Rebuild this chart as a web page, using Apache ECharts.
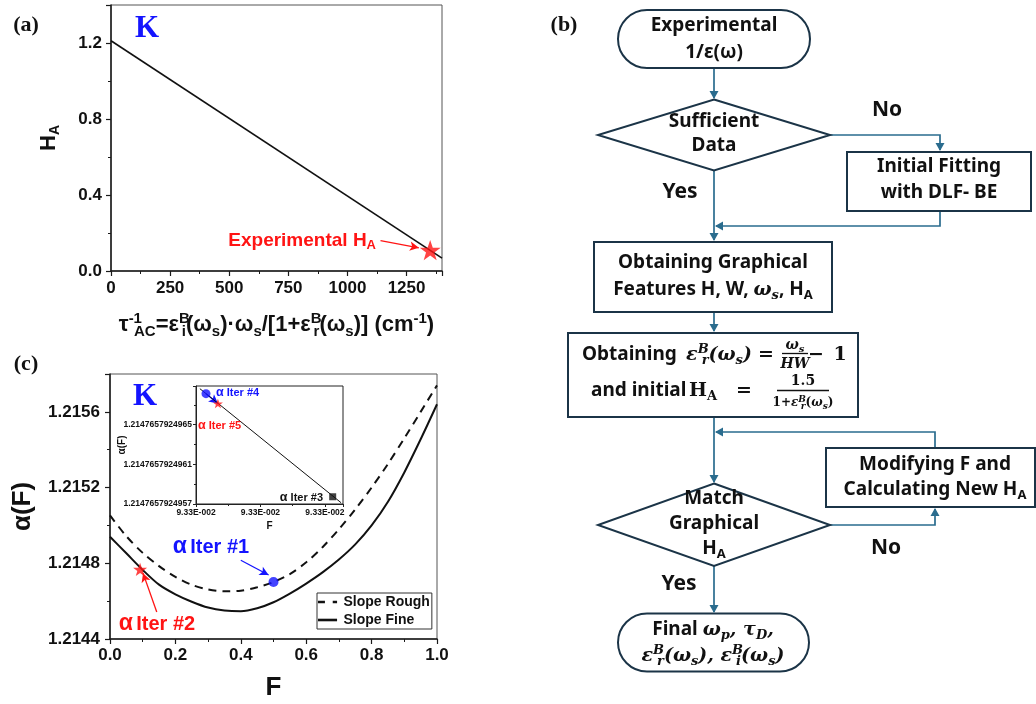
<!DOCTYPE html>
<html><head><meta charset="utf-8">
<script src="https://cdn.jsdelivr.net/npm/echarts@6/dist/echarts.min.js"></script>
<style>html,body{margin:0;padding:0;background:#fff}#c{width:1036px;height:704px}</style>
</head><body><div id="c"></div>
<script>
// ---------------- DATA ----------------
// Panel (a)
const aX = [0, 1400];
const aHA = [1.212, 0.068];
const aExpPoint = [1350, 0.11];
const aExpArrow = [[1140, 0.160], [1302, 0.122]];
// Panel (c)
const cF = [0, 0.05, 0.10, 0.15, 0.20, 0.25, 0.30, 0.35, 0.40, 0.45, 0.50, 0.55, 0.60, 0.65, 0.70, 0.75, 0.80, 0.85, 0.90, 0.95, 1.00];
const cRough = [1.215053, 1.214943, 1.214855, 1.214785, 1.214728, 1.214686, 1.214662, 1.214652, 1.214655, 1.214673, 1.214701, 1.214743, 1.214805, 1.214885, 1.21498, 1.215085, 1.2152, 1.215325, 1.21546, 1.2156, 1.21574];
const cFine = [1.21494, 1.214853, 1.214765, 1.214687, 1.214636, 1.214597, 1.214566, 1.214550, 1.214546, 1.214562, 1.214594, 1.21464, 1.214693, 1.214752, 1.21482, 1.2149, 1.215, 1.215125, 1.21528, 1.215455, 1.21564];
const cIter1 = [0.5, 1.214701];
const cIter2 = [0.092, 1.214768];
const cIter1Arrow = [[0.40, 1.214816], [0.485, 1.214738]];
const cIter2Arrow = [[0.143, 1.214543], [0.101, 1.214748]];
// Inset (F offset in tick units, alpha offset in 1e-13 from 1.2147657924957)
const insF = [0.06, 2.25];
const insAlpha = [11.63, 0.13];
const insIter4 = [0.155, 11.13];
const insIter5 = [0.34, 10.13];
const insIter3 = [2.12, 0.73];
const insYTickLabels = ['1.2147657924957', '1.2147657924961', '1.2147657924965'];
const insXTickLabels = ['9.33E-002', '9.33E-002', '9.33E-002'];

// ---------------- STYLE ----------------
const SANS = '"Liberation Sans", Arial, sans-serif';
const SERIF = '"Liberation Serif", "Times New Roman", serif';
const FF = '"Noto Sans", "Open Sans", sans-serif';
const MF = '"DejaVu Serif", serif';
const BLUE = '#1414ff', RED = '#ff1414';
const STAR = 'path://M50,0 L61.8,35.1 L97.6,35.1 L68.8,56.7 L79.4,91 L50,70 L20.6,91 L31.2,56.7 L2.4,35.1 L38.2,35.1 Z';
const zip = (a, b) => a.map((v, i) => [v, b[i]]);

function arrowML(from, to, color, width) {
  return { silent: true, symbol: ['none', 'arrow'], symbolSize: [7, 9], label: { show: false },
    lineStyle: { color, width, type: 'solid' }, emphasis: { disabled: true },
    data: [[{ coord: from }, { coord: to }]] };
}
function axisCommon(extra) {
  return Object.assign({
    type: 'value', splitLine: { show: false }, nameMoveOverlap: false,
    axisLine: { show: true, onZero: false, lineStyle: { color: '#1a1a1a', width: 1.5 } },
    axisTick: { show: true, inside: false, length: 5, lineStyle: { color: '#1a1a1a', width: 1.2 } },
    minorTick: { show: true, splitNumber: 2, length: 3, lineStyle: { color: '#1a1a1a', width: 1 } },
    minorSplitLine: { show: false },
  }, extra);
}
const lab = (size, extra) => Object.assign({ fontFamily: SANS, fontWeight: 'bold', fontSize: size, color: '#111' }, extra || {});
const subR = (sz, va) => ({ fontFamily: SANS, fontWeight: 'bold', fontSize: sz, lineHeight: 13, verticalAlign: va, color: '#111' });

// ---------------- FLOWCHART (graphic) ----------------
const LC = '#2a6c8e', BC = '#1b3447';
const mi = (sz, lh, va, pad) => { const o = { fontFamily: MF, fontStyle: 'italic', fontWeight: 'bold', fontSize: sz, lineHeight: lh }; if (va) o.verticalAlign = va; if (pad) o.padding = pad; return o; };
const mr = (sz, lh, va) => { const o = { fontFamily: MF, fontWeight: 'bold', fontSize: sz, lineHeight: lh }; if (va) o.verticalAlign = va; return o; };
const R = {
  m: mi(19, 24), ms: mi(13, 12, 'bottom'), mp: mi(13, 12, 'top', [0, -7, 0, 0]),
  r: mr(19, 24), rs: mr(13, 12, 'bottom'),
  s: { fontFamily: FF, fontWeight: 'bold', fontSize: 13, lineHeight: 12, verticalAlign: 'bottom' },
  n: mi(14, 18), nr: mr(14, 18), ns: mi(10, 9, 'bottom'),
  t: mi(12, 16), tr: mr(12, 16), ts: mi(9, 8, 'bottom'), tp: mi(9, 8, 'top', [0, -5, 0, 0])
};
const G = [];
function txt(x, y, text, extra) {
  G.push({ type: 'text', x, y, z: 20, style: Object.assign({ text, align: 'center', verticalAlign: 'middle',
    fontFamily: FF, fontWeight: 'bold', fontSize: 19, fill: '#111', lineHeight: 24, rich: R }, extra || {}) });
}
function rect(x, y, w, h, r) {
  G.push({ type: 'rect', z: 10, shape: { x, y, width: w, height: h, r: r || 0 }, style: { fill: '#fff', stroke: BC, lineWidth: 2 } });
}
function poly(pts, closed) {
  G.push({ type: closed ? 'polygon' : 'polyline', z: 9, shape: { points: pts },
    style: closed ? { fill: '#fff', stroke: BC, lineWidth: 2 } : { fill: null, stroke: LC, lineWidth: 1.7 } });
}
function head(x, y, dir) {
  const L = 8, W = 4.5; let p;
  if (dir === 'down') p = [[x, y], [x - W, y - L], [x + W, y - L]];
  if (dir === 'up') p = [[x, y], [x - W, y + L], [x + W, y + L]];
  if (dir === 'left') p = [[x, y], [x + L, y - W], [x + L, y + W]];
  G.push({ type: 'polygon', z: 11, shape: { points: p }, style: { fill: LC } });
}
function hbar(x1, x2, y) {
  G.push({ type: 'line', z: 21, shape: { x1, y1: y, x2, y2: y }, style: { stroke: '#111', lineWidth: 1.3 } });
}
// connectors
poly([[714, 68], [714, 98]]); head(714, 99, 'down');
poly([[830, 135], [940, 135], [940, 150]]); head(940, 151, 'down');
poly([[940, 211], [940, 226], [716, 226]]); head(715, 226, 'left');
poly([[714, 170], [714, 240]]); head(714, 241, 'down');
poly([[714, 312], [714, 331]]); head(714, 332, 'down');
poly([[714, 417], [714, 482]]); head(714, 483, 'down');
poly([[935, 448], [935, 432], [716, 432]]); head(715, 432, 'left');
poly([[830, 525], [935, 525], [935, 509]]); head(935, 508, 'up');
poly([[714, 566], [714, 612]]); head(714, 613, 'down');
// shapes
rect(618, 10, 192, 58, 29);
poly([[714, 99.5], [830, 135], [714, 170.5], [598, 135]], true);
rect(847, 152, 184, 59);
rect(594, 242, 238, 70);
rect(568, 333, 290, 84);
rect(826, 448, 209, 59);
poly([[714, 483.5], [830, 525], [714, 566], [598, 525]], true);
rect(618, 613.5, 191, 58, 29);
// texts
txt(714, 26, 'Experimental');
txt(714, 53, '1/ε(ω)');
txt(714, 122, 'Sufficient');
txt(714, 146, 'Data');
txt(887, 110, 'No', { fontSize: 21 });
txt(680, 192, 'Yes', { fontSize: 21 });
txt(939, 167, 'Initial Fitting');
txt(939, 193, 'with DLF- BE');
txt(713, 263, 'Obtaining Graphical');
txt(713, 290, 'Features H, W, {m|ω}{ms|s}, H{s|A}');
// box 3 line 1
txt(582, 355, 'Obtaining', { align: 'left' });
txt(719, 355, '{m|ε}{mp|B}{ms|r}{m|(ω}{ms|s}{m|)}');
txt(766, 355, '=', { fontFamily: MF, fontSize: 19 });
txt(795, 345, '{n|ω}{ns|s}', { lineHeight: 18 });
hbar(782, 808, 353.5);
txt(795, 364, '{n|HW}', { lineHeight: 18 });
txt(816, 355, '−', { fontFamily: MF, fontSize: 19 });
txt(840, 355, '1', { fontFamily: MF, fontSize: 19 });
// box 3 line 2
txt(591, 391, 'and initial', { align: 'left' });
txt(703, 391, '{r|H}{rs|A}');
txt(744, 391, '=', { fontFamily: MF, fontSize: 19 });
txt(803, 381, '{nr|1.5}', { lineHeight: 18 });
hbar(777, 829, 390.5);
txt(803, 403, '{tr|1+}{t|ε}{tp|B}{ts|r}{tr|(}{t|ω}{ts|s}{tr|)}', { lineHeight: 16 });
txt(935, 465, 'Modifying F and');
txt(935, 490, 'Calculating New H{s|A}');
txt(714, 499, 'Match');
txt(714, 524, 'Graphical');
txt(714, 549, 'H{s|A}');
txt(886, 548, 'No', { fontSize: 21 });
txt(679, 584, 'Yes', { fontSize: 21 });
txt(713, 630, 'Final {m|ω}{ms|p}{m|, τ}{ms|D}{m|,}');
txt(713, 656, '{m|ε}{mp|B}{ms|r}{m|(ω}{ms|s}{m|), ε}{mp|B}{ms|i}{m|(ω}{ms|s}{m|)}');

// panel labels and annotations
function ann(x, y, text, style) {
  G.push({ type: 'text', x, y, z: 30, style: Object.assign({ text, align: 'center', verticalAlign: 'middle' }, style) });
}
ann(26, 25, '(a)', { fontFamily: SERIF, fontWeight: 'bold', fontSize: 22, fill: '#111' });
ann(26, 364, '(c)', { fontFamily: SERIF, fontWeight: 'bold', fontSize: 22, fill: '#111' });
ann(564, 25, '(b)', { fontFamily: SERIF, fontWeight: 'bold', fontSize: 22, fill: '#111' });
ann(147, 29, 'K', { fontFamily: SERIF, fontWeight: 'bold', fontSize: 31, fill: BLUE });
ann(145, 397, 'K', { fontFamily: SERIF, fontWeight: 'bold', fontSize: 31, fill: BLUE });
ann(376, 241, 'Experimental H{s|A}', { align: 'right', fontFamily: SANS, fontWeight: 'bold', fontSize: 19, fill: RED, lineHeight: 22,
  rich: { s: { fontFamily: SANS, fontWeight: 'bold', fontSize: 13, lineHeight: 12, verticalAlign: 'bottom', fill: RED } } });
const iterRich = (c, big, small) => ({ a: { fontFamily: SANS, fontWeight: 'bold', fontSize: big, fill: c }, t: { fontFamily: SANS, fontWeight: 'bold', fontSize: small, fill: c } });
ann(211, 547, '{a|α} {t|Iter #1}', { rich: iterRich(BLUE, 23, 20) });
ann(157, 624, '{a|α} {t|Iter #2}', { rich: iterRich(RED, 23, 20) });
ann(216, 393, '{a|α}{t| Iter #4}', { align: 'left', rich: iterRich(BLUE, 12.5, 11) });
ann(198, 426, '{a|α}{t| Iter #5}', { align: 'left', rich: iterRich(RED, 12.5, 11) });
ann(323, 498, '{a|α}{t| Iter #3}', { align: 'right', rich: iterRich('#111', 12.5, 11) });

// ---------------- CHART ----------------
const chart = echarts.init(document.getElementById('c'), null, { renderer: 'canvas' });
const option = {
  animation: false,
  backgroundColor: '#fff',
  grid: [
    { left: 111, top: 5, width: 331, height: 266, show: true, borderColor: '#555', borderWidth: 1, backgroundColor: 'transparent', containLabel: false, outerBoundsMode: 'none' },
    { left: 110, top: 374, width: 327, height: 265, show: true, borderColor: '#555', borderWidth: 1, backgroundColor: 'transparent', containLabel: false, outerBoundsMode: 'none' },
    { left: 196, top: 386, width: 147, height: 118, show: true, borderColor: '#222', borderWidth: 1, backgroundColor: '#fff', containLabel: false, outerBoundsMode: 'none' }
  ],
  xAxis: [
    axisCommon({ gridIndex: 0, min: 0, max: 1400, interval: 250,
      axisLabel: lab(17, { margin: 9, formatter: v => v > 1300 ? '' : String(v) }),
      name: '{n|τ}{p|-1}{b|AC}{n|=ε}{p|B}{b|i}{n|(ω}{b|s}{n|)·ω}{b|s}{n|/[1+ε}{p|B}{b|r}{n|(ω}{b|s}{n|)] (cm}{q|-1}{n|)}',
      nameLocation: 'middle', nameGap: 40,
      nameTextStyle: { fontFamily: SANS, fontWeight: 'bold', fontSize: 22, color: '#111', lineHeight: 28,
        rich: {
          n: { fontFamily: SANS, fontWeight: 'bold', fontSize: 22, lineHeight: 28, color: '#111' },
          b: subR(15, 'bottom'),
          p: Object.assign(subR(15, 'top'), { padding: [0, -8, 0, 0] }),
          q: subR(15, 'top')
        } } }),
    axisCommon({ gridIndex: 1, min: 0, max: 1, interval: 0.2,
      axisLabel: lab(17, { margin: 8, formatter: v => v.toFixed(1) }),
      name: 'F', nameLocation: 'middle', nameGap: 36,
      nameTextStyle: { fontFamily: SANS, fontWeight: 'bold', fontSize: 26, color: '#111' } }),
    axisCommon({ gridIndex: 2, min: 0, max: 2.28, interval: 1,
      axisLine: { show: true, onZero: false, lineStyle: { color: '#222', width: 1 } },
      axisTick: { show: true, length: 3, lineStyle: { color: '#222', width: 1 } },
      minorTick: { show: true, splitNumber: 2, length: 2, lineStyle: { color: '#222' } },
      axisLabel: lab(8.5, { margin: 4, formatter: v => v > 2.1 ? '' : insXTickLabels[Math.round(v)] }),
      name: 'F', nameLocation: 'middle', nameGap: 17,
      nameTextStyle: { fontFamily: SANS, fontWeight: 'bold', fontSize: 10, color: '#111' } })
  ],
  yAxis: [
    axisCommon({ gridIndex: 0, min: 0, max: 1.4, interval: 0.4,
      axisLabel: lab(17, { margin: 9, formatter: v => v > 1.3 ? '' : v.toFixed(1) }),
      name: 'H{s|A}', nameLocation: 'middle', nameGap: 49,
      nameTextStyle: { fontFamily: SANS, fontWeight: 'bold', fontSize: 22, color: '#111', lineHeight: 26,
        rich: { s: subR(14, 'bottom') } } }),
    axisCommon({ gridIndex: 1, min: 1.2144, max: 1.2158, interval: 0.0004,
      axisLabel: lab(17, { margin: 10, formatter: v => v > 1.21575 ? '' : v.toFixed(4) }),
      name: 'α(F)', nameLocation: 'middle', nameGap: 74,
      nameTextStyle: { fontFamily: SANS, fontWeight: 'bold', fontSize: 26, color: '#111' } }),
    axisCommon({ gridIndex: 2, min: 0, max: 11.9, interval: 4,
      axisLine: { show: true, onZero: false, lineStyle: { color: '#222', width: 1 } },
      axisTick: { show: true, length: 3, lineStyle: { color: '#222', width: 1 } },
      minorTick: { show: true, splitNumber: 2, length: 2, lineStyle: { color: '#222' } },
      axisLabel: lab(8.5, { margin: 4, formatter: v => v > 9 ? '' : insYTickLabels[Math.round(v / 4)] }),
      name: 'α(F)', nameLocation: 'middle', nameGap: 69,
      nameTextStyle: { fontFamily: SANS, fontWeight: 'bold', fontSize: 10, color: '#111' } })
  ],
  legend: {
    data: [
      { name: 'Slope Rough', icon: 'path://M0,0h8v3h-8zM17,0h5v3h-5z' },
      { name: 'Slope Fine', icon: 'path://M0,0h22v3h-22z' }
    ],
    orient: 'vertical', left: 317, top: 593,
    itemWidth: 22, itemHeight: 2.6, itemGap: 2, padding: [1, 2, 1, 1],
    borderColor: '#333', borderWidth: 1, backgroundColor: '#fff',
    itemStyle: { color: '#111', borderWidth: 0 },
    textStyle: { fontFamily: SANS, fontWeight: 'bold', fontSize: 14, color: '#111', lineHeight: 16 }
  },
  series: [
    { name: 'aLine', type: 'line', xAxisIndex: 0, yAxisIndex: 0, data: zip(aX, aHA), symbol: 'none',
      lineStyle: { color: '#111', width: 1.6 }, markLine: arrowML(aExpArrow[0], aExpArrow[1], RED, 1.2) },
    { name: 'aExp', type: 'scatter', xAxisIndex: 0, yAxisIndex: 0, data: [aExpPoint], symbol: STAR, symbolKeepAspect: true, symbolSize: 21,
      itemStyle: { color: RED }, z: 5 },
    { name: 'Slope Rough', type: 'line', xAxisIndex: 1, yAxisIndex: 1, data: zip(cF, cRough), symbol: 'none', smooth: 0.3,
      color: '#111', lineStyle: { color: '#111', width: 2, type: [8, 6] },
      markLine: arrowML(cIter1Arrow[0], cIter1Arrow[1], BLUE, 1.3) },
    { name: 'Slope Fine', type: 'line', xAxisIndex: 1, yAxisIndex: 1, data: zip(cF, cFine), symbol: 'none', smooth: 0.3,
      color: '#111', lineStyle: { color: '#111', width: 2 },
      markLine: arrowML(cIter2Arrow[0], cIter2Arrow[1], RED, 1.3) },
    { name: 'cIter1', type: 'scatter', xAxisIndex: 1, yAxisIndex: 1, data: [cIter1], symbol: 'circle', symbolSize: 10,
      itemStyle: { color: BLUE }, z: 5 },
    { name: 'cIter2', type: 'scatter', xAxisIndex: 1, yAxisIndex: 1, data: [cIter2], symbol: STAR, symbolKeepAspect: true, symbolSize: 14,
      itemStyle: { color: RED }, z: 5 },
    { name: 'insLine', type: 'line', xAxisIndex: 2, yAxisIndex: 2, data: zip(insF, insAlpha), symbol: 'none',
      lineStyle: { color: '#111', width: 1 }, z: 6,
      markLine: arrowML(insIter4, insIter5, BLUE, 1.3) },
    { name: 'ins4', type: 'scatter', xAxisIndex: 2, yAxisIndex: 2, data: [insIter4], symbol: 'circle', symbolSize: 9, itemStyle: { color: BLUE }, z: 7 },
    { name: 'ins5', type: 'scatter', xAxisIndex: 2, yAxisIndex: 2, data: [insIter5], symbol: STAR, symbolKeepAspect: true, symbolSize: 10, itemStyle: { color: RED }, z: 8 },
    { name: 'ins3', type: 'scatter', xAxisIndex: 2, yAxisIndex: 2, data: [insIter3], symbol: 'rect', symbolSize: 7, itemStyle: { color: '#111' }, z: 7 }
  ],
  graphic: { elements: G }
};
chart.setOption(option);
</script>
</body></html>
